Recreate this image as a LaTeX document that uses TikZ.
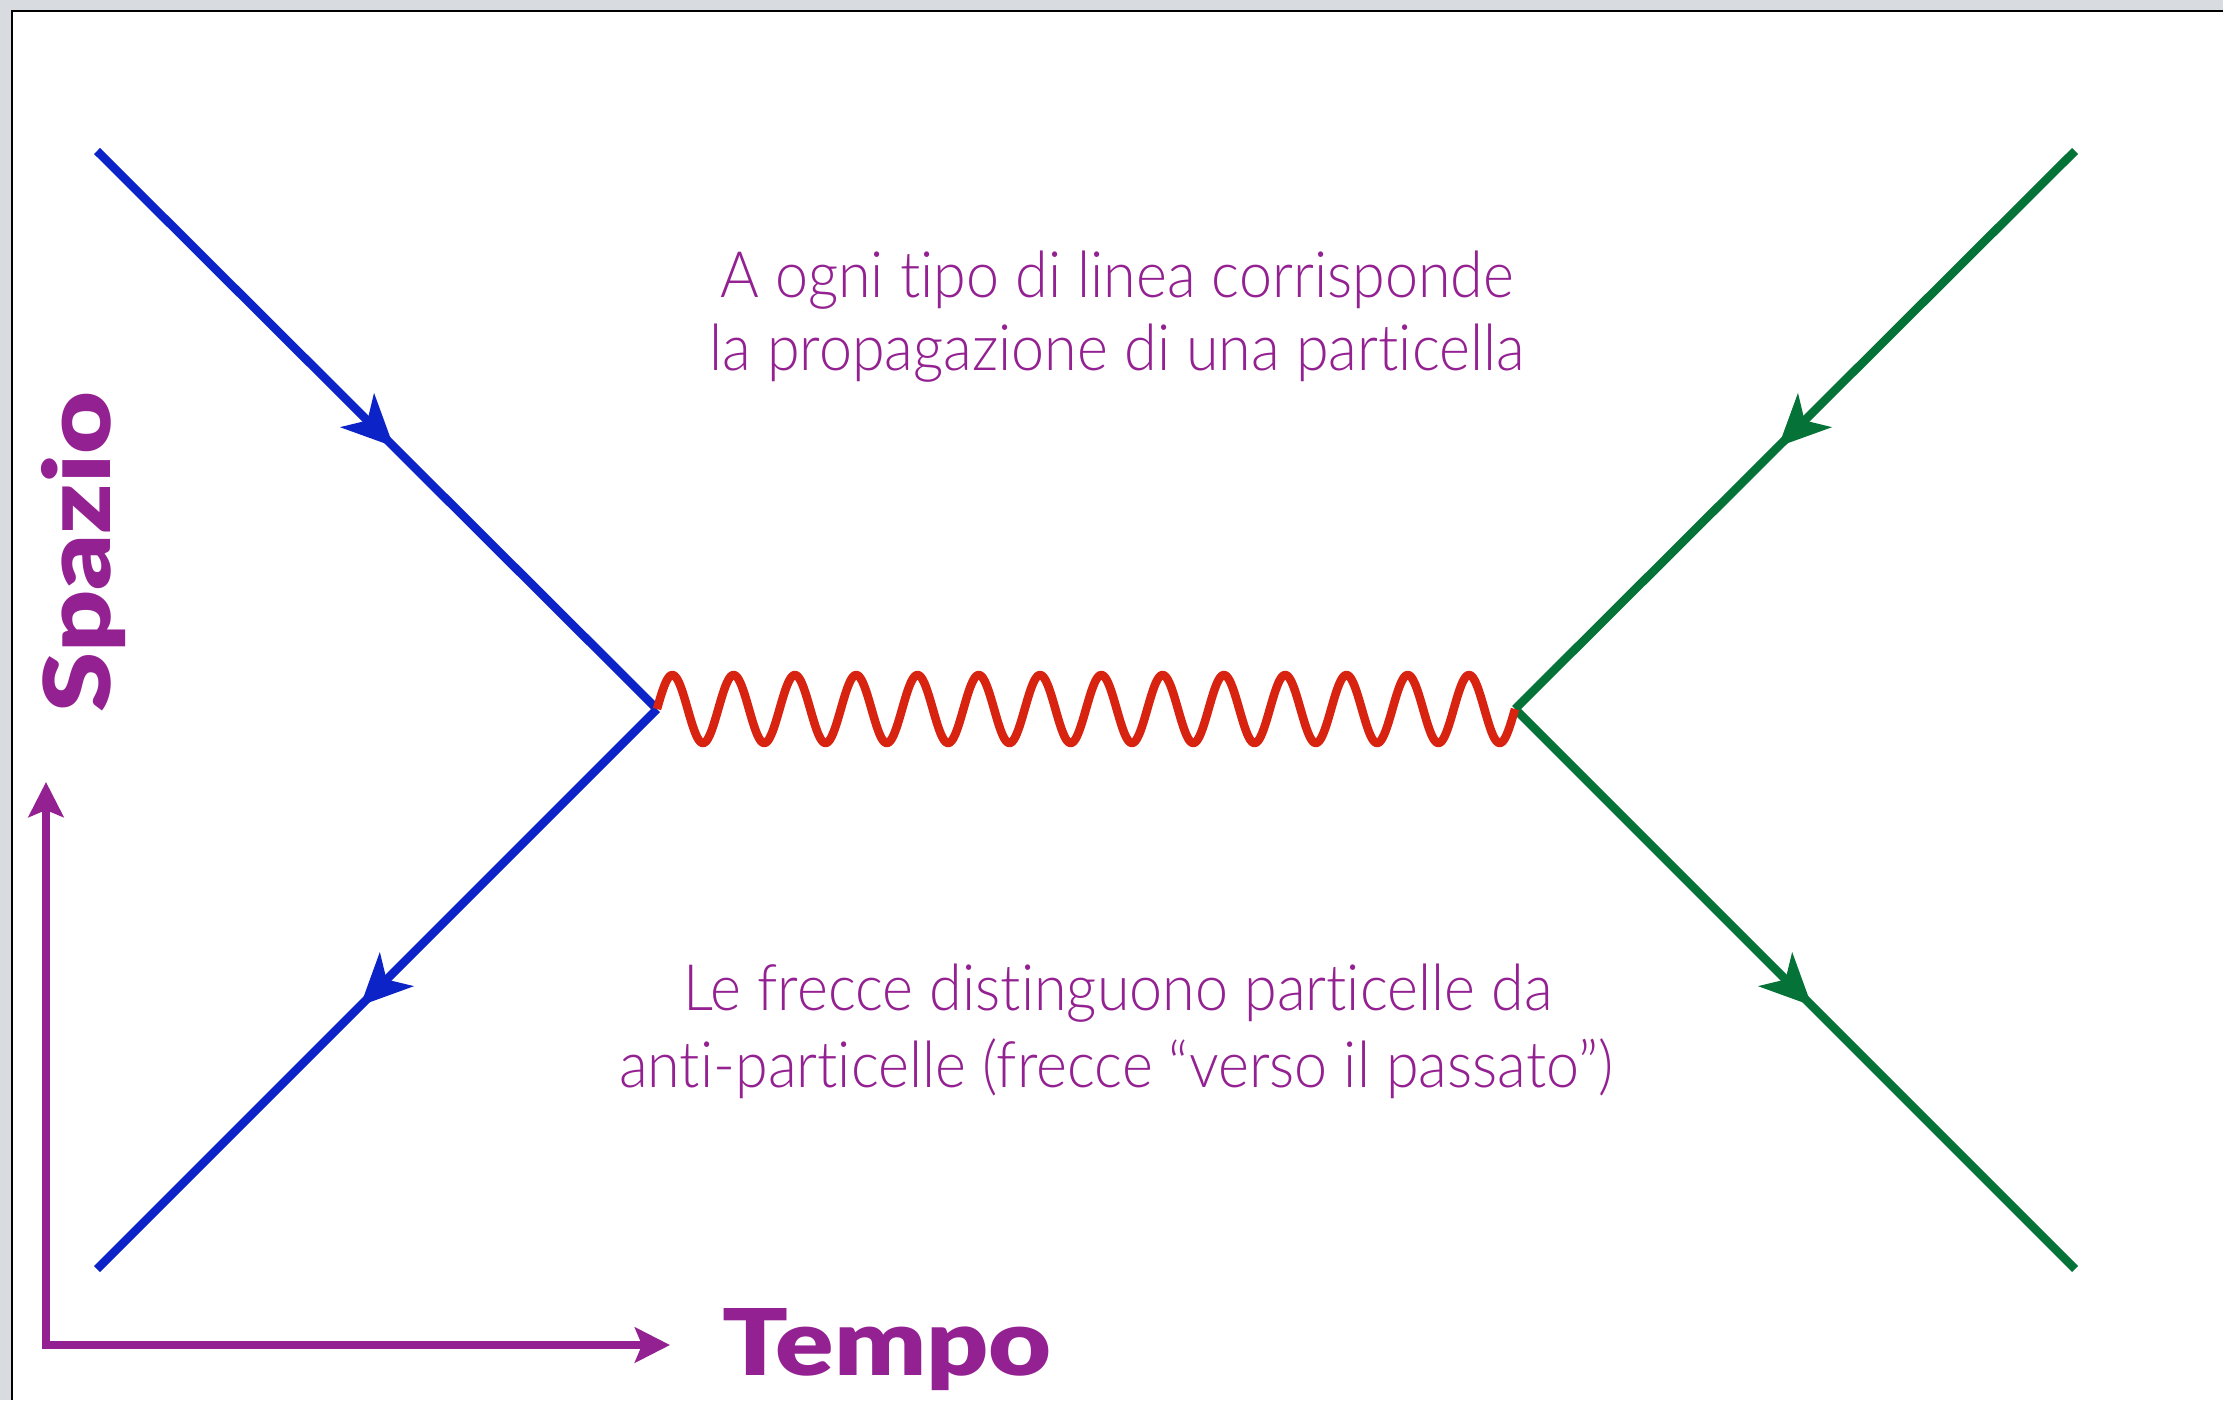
\documentclass[tikz,border=0pt]{standalone}
\usepackage{fontspec}
\usepackage{graphicx}
\setmainfont{Lato}
\newfontfamily\lightfont[Ligatures=NoCommon]{Lato Light}
\newfontfamily\heavyfont{Lato Black}
\usetikzlibrary{arrows.meta,decorations.markings}
\definecolor{fblue}{RGB}{12,35,200}
\definecolor{fgreen}{RGB}{5,115,55}
\definecolor{fred}{RGB}{215,35,15}
\definecolor{fpurple}{RGB}{148,33,145}
\definecolor{framegrey}{RGB}{216,219,223}
\newcommand{\captxt}[1]{\scalebox{0.925}[1]{#1}}
\newcommand{\axtxt}[1]{\scalebox{1.18}[1]{#1}}
\tikzset{
  fermion/.style={line width=8.5pt,draw=#1,
    postaction={decorate},
    decoration={markings, mark=at position 0.53 with {\arrow[#1]{Stealth[length=51pt,width=47pt,inset=14pt]}}}},
  photon/.style={line width=8.5pt,draw=fred,line join=round},
  axisline/.style={line width=8pt,draw=fpurple,{Stealth[length=35pt,width=35pt,inset=7pt]}-{Stealth[length=35pt,width=35pt,inset=7pt]}},
  caption/.style={text=fpurple,inner sep=0pt,anchor=base,font=\lightfont\fontsize{64}{75}\selectfont},
  axislabel/.style={text=fpurple,inner sep=0pt,anchor=base,font=\heavyfont\fontsize{92}{100}\selectfont},
}
\begin{document}
\begin{tikzpicture}[x=1pt,y=-1pt]
\useasboundingbox (0,0) rectangle (2223,1400);
% frame
\fill[framegrey] (0,0) rectangle (2223,1400);
\fill[white] (12,11) rectangle (2223,1400);
\draw[black,line width=2.5pt] (12,1400) -- (12,11) -- (2223,11);
% vertices and ends
\coordinate (v1) at (657,709);
\coordinate (v2) at (1515,709);
\coordinate (a) at (97,151);
\coordinate (b) at (97,1269);
\coordinate (c) at (2075,151);
\coordinate (d) at (2075,1269);
% fermion lines
\draw[fermion=fblue] (a) -- (v1);
\draw[fermion=fblue] (v1) -- (b);
\draw[fermion=fgreen] (c) -- (v2);
\draw[fermion=fgreen] (v2) -- (d);
% photon
\draw[photon] plot[domain=0:858,samples=700] ({657+\x},{709-34*sin(\x*5.87413)});
% captions
\node[caption] (t1) at (1117,297) {\captxt{A ogni tipo di linea corrisponde}};
\node[caption] (t2) at (1117,370) {\captxt{la propagazione di una particella}};
\node[caption] (t3) at (1118,1010) {\captxt{Le frecce distinguono particelle da}};
\node[caption] (t4) at (1116,1087) {\captxt{anti-particelle (frecce “verso il passato”)}};
% axes
\coordinate (o) at (46,1345);
\coordinate (ty) at (46,782);
\coordinate (tx) at (670,1345);
\draw[axisline] (ty) -- (o) -- (tx);
\node[axislabel,rotate=90] (spazio) at (110,552) {\axtxt{Spazio}};
\node[axislabel] (tempo) at (887,1375) {\axtxt{Tempo}};
\end{tikzpicture}
\end{document}
